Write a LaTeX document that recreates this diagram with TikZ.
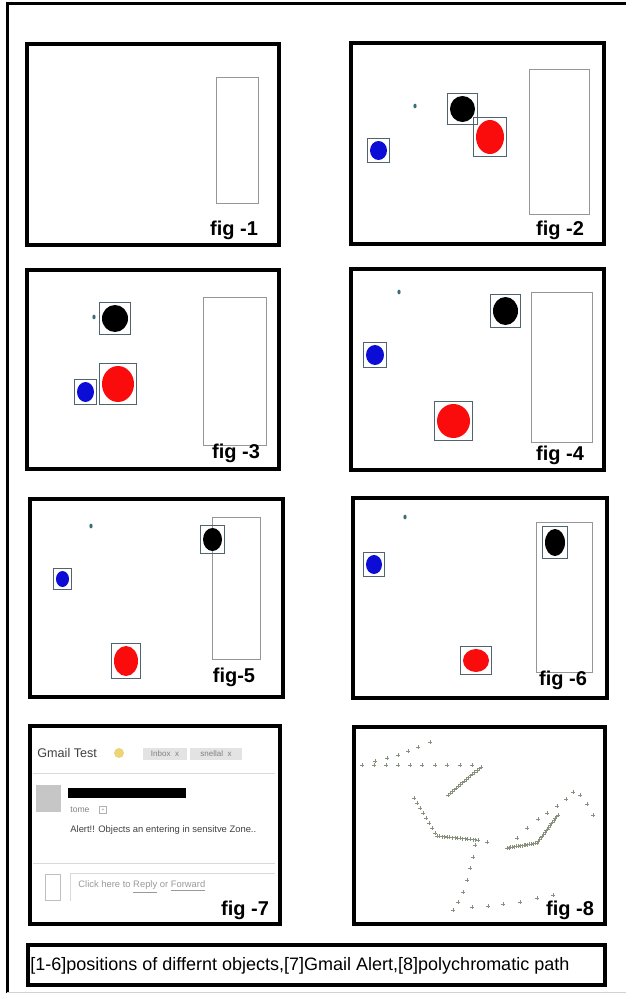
\documentclass[tikz,border=0pt]{standalone}
\usepackage{fontspec}
\setmainfont{Liberation Sans}
\usetikzlibrary{positioning,fit,calc,shapes.geometric}
\definecolor{trackgray}{RGB}{80,100,112}
\definecolor{zonegray}{RGB}{150,150,150}
\definecolor{objred}{RGB}{250,12,12}
\definecolor{objblue}{RGB}{12,12,215}
\definecolor{pathgray}{RGB}{135,145,125}
\definecolor{mailyellow}{RGB}{238,212,120}
\definecolor{seedteal}{RGB}{60,110,120}
\tikzset{
    panel/.style={
        draw,
        line width=2.3pt
    },
    zone/.style={
        draw=zonegray,
        line width=0.5pt
    },
    blob/.style={
        ellipse,
        fill=#1,
        inner sep=0pt
    },
    trackbox/.style={
        rectangle,
        draw=trackgray,
        line width=0.5pt,
        inner sep=1pt
    },
    seed/.style={
        ellipse,
        fill=seedteal,
        inner sep=0pt,
        minimum width=1.6pt,
        minimum height=2.4pt
    },
    figlabel/.style={
        font=\bfseries\fontsize{10}{12}\selectfont
    },
    mailtext/.style={
        anchor=west,
        inner sep=0pt,
        text=black!75
    },
    tagbox/.style={
        rectangle,
        fill=gray!22,
        text=gray,
        inner sep=1.2pt,
        minimum height=6pt,
        font=\fontsize{4}{4.5}\selectfont
    },
    plusmark/.style={
        draw=pathgray,
        line width=0.35pt
    }
}

\begin{document}
\begin{tikzpicture}[x=0.5pt,y=-0.5pt]
    \useasboundingbox (0,0) rectangle (626,995);
    % Outer frame
    \draw[line width=1.5pt] (7,993) -- (7,4) -- (626,4);
    \draw[gray!35, line width=0.4pt] (7,992) -- (626,992);

    % Panels
    \draw[panel] (27,44) rectangle (279,245);
    \draw[panel] (351,43) rectangle (604,244);
    \draw[panel] (27,270) rectangle (279,469);
    \draw[panel] (351,269) rectangle (604,470);
    \draw[panel] (30,499) rectangle (283,697);
    \draw[panel] (353,498) rectangle (607,698);
    \draw[panel] (30,726) rectangle (280,924);
    \draw[panel] (354,727) rectangle (605,924);
    \draw[panel] (28,945) rectangle (605,985);

    % Sensitive zones
    \draw[zone] (216,78) rectangle (258,203);
    \draw[zone] (529,70) rectangle (589,214);
    \draw[zone] (203,297) rectangle (266,445);
    \draw[zone] (531,292) rectangle (592,442);
    \draw[zone] (212,517) rectangle (260,659);
    \draw[zone] (536,522) rectangle (592,672);

    % fig 2
    \node[seed] (d2) at (415,106) {};
    \node[blob=black, minimum width=12.5pt, minimum height=13pt] (k2) at (462.5,109) {};
    \node[blob=objred, minimum width=14pt, minimum height=17pt] (r2) at (490,137) {};
    \node[blob=objblue, minimum width=8.5pt, minimum height=9.5pt] (b2) at (378.5,150.5) {};
    \node[trackbox, fit=(k2)] (k2box) {};
    \node[trackbox, fit=(r2)] (r2box) {};
    \node[trackbox, fit=(b2)] (b2box) {};

    % fig 3
    \node[seed] (d3) at (94,317) {};
    \node[blob=black, minimum width=13pt, minimum height=13.5pt] (k3) at (115,318.5) {};
    \node[blob=objred, minimum width=16pt, minimum height=18pt] (r3) at (118,384) {};
    \node[blob=objblue, minimum width=8.5pt, minimum height=10pt] (b3) at (85.5,392) {};
    \node[trackbox, fit=(k3)] (k3box) {};
    \node[trackbox, fit=(r3)] (r3box) {};
    \node[trackbox, fit=(b3)] (b3box) {};

    % fig 4
    \node[seed] (d4) at (399,292) {};
    \node[blob=black, minimum width=12.5pt, minimum height=14pt] (k4) at (505.5,311) {};
    \node[blob=objred, minimum width=16.5pt, minimum height=17pt] (r4) at (453.5,421) {};
    \node[blob=objblue, minimum width=9pt, minimum height=10pt] (b4) at (375,355) {};
    \node[trackbox, fit=(k4)] (k4box) {};
    \node[trackbox, fit=(r4)] (r4box) {};
    \node[trackbox, fit=(b4)] (b4box) {};

    % fig 5
    \node[seed] (d5) at (91,526) {};
    \node[blob=black, minimum width=9.5pt, minimum height=11.5pt] (k5) at (212.5,539.5) {};
    \node[blob=objred, minimum width=12pt, minimum height=15pt] (r5) at (126,661) {};
    \node[blob=objblue, minimum width=6.5pt, minimum height=8pt] (b5) at (62.5,579) {};
    \node[trackbox, fit=(k5)] (k5box) {};
    \node[trackbox, fit=(r5)] (r5box) {};
    \node[trackbox, fit=(b5)] (b5box) {};

    % fig 6
    \node[seed] (d6) at (405,517) {};
    \node[blob=black, minimum width=10pt, minimum height=13.5pt] (k6) at (555,542.5) {};
    \node[blob=objred, minimum width=13pt, minimum height=11.5pt] (r6) at (476,660.5) {};
    \node[blob=objblue, minimum width=8pt, minimum height=9.5pt] (b6) at (374,564.5) {};
    \node[trackbox, fit=(k6)] (k6box) {};
    \node[trackbox, fit=(r6)] (r6box) {};
    \node[trackbox, fit=(b6)] (b6box) {};

    % fig 7 : mail alert
    \node[mailtext, font=\fontsize{6.3}{7}\selectfont] (subject) at (37,753) {Gmail Test};
    \node[circle, fill=mailyellow, minimum size=5pt, inner sep=0pt] (star) at (119,753) {};
    \node[tagbox, minimum width=22pt] (inbox) at (165,754) {Inbox \ x};
    \node[tagbox, minimum width=26pt] (snellal) at (216,754) {snellal \ x};
    \draw[gray!30] (33,773) -- (275,773);
    \node[rectangle, fill=gray!45, minimum width=12.5pt, minimum height=13.5pt, inner sep=0pt] (avatar) at (48.5,798.5) {};
    \node[rectangle, fill=black, minimum width=59pt, minimum height=5pt, inner sep=0pt] (sender) at (127,793) {};
    \node[mailtext, text=gray, font=\fontsize{4.3}{5}\selectfont] (tome) at (70,810) {tome};
    \node[rectangle, draw=gray!60, minimum size=3.5pt, inner sep=0pt, font=\fontsize{2.5}{3}\selectfont, text=gray] (menu) at (103,810) {+};
    \node[mailtext, font=\fontsize{4.7}{5.5}\selectfont] (alert) at (70,830) {Alert!! Objects an entering in sensitve Zone..};
    \draw[gray!30] (33,863) -- (275,863);
    \node[rectangle, draw=gray!50, minimum width=7.5pt, minimum height=13pt, inner sep=0pt] (avatar2) at (52.5,887) {};
    \draw[gray!30] (70,901) -- (70,873) -- (275,873);
    \node[mailtext, text=gray!80, font=\fontsize{4.7}{5.5}\selectfont] (reply) at (78,887) {Click here to \underline{Reply} or \underline{Forward}};

    % fig 8 : polychromatic path
    \foreach \p in {(362,765),(374,765),(386,765),(398,765),(410,765),(422,765),(435,765),(447,765),(460,765),(472,765),
                    (375,761),(387,758),(398,755),(408,751),(418,747),(430,742),
                    (414,798),(417,803),(420,808),(423,813),(426,818),(429,823),(432,828),(435,833),(487,842),
                    (475,845),(473,857),(470,868),(467,880),(463,892),(458,902),(453,910),
                    (472,907),(488,906),(503,904),(520,902),(537,898),(553,895),
                    (517,838),(527,828),(538,819),(547,813),(557,806),(566,799),(573,792),(580,795),(587,804),(593,815)}
        \draw[plusmark] \p +(-2,0) -- +(2,0) \p +(0,-2) -- +(0,2);
    \foreach \t in {0,0.0625,...,1.01} {
        \draw[plusmark] ($(448,795)!\t!(481,767)$) +(-2,0) -- +(2,0) +(0,-2) -- +(0,2);
        \draw[plusmark] ($(437,836)!\t!(478,840)$) +(-2,0) -- +(2,0) +(0,-2) -- +(0,2);
        \draw[plusmark] ($(507,848)!\t!(537,843)$) +(-2,0) -- +(2,0) +(0,-2) -- +(0,2);
        \draw[plusmark] ($(537,843)!\t!(558,815)$) +(-2,0) -- +(2,0) +(0,-2) -- +(0,2);
    }

    % Figure labels
    \node[figlabel] (l1) at (234,230) {fig -1};
    \node[figlabel] (l2) at (560,230) {fig -2};
    \node[figlabel] (l3) at (236,453) {fig -3};
    \node[figlabel] (l4) at (560,455) {fig -4};
    \node[figlabel] (l5) at (234,677) {fig-5};
    \node[figlabel] (l6) at (563,680) {fig -6};
    \node[figlabel] (l7) at (245,910) {fig -7};
    \node[figlabel] (l8) at (570,910) {fig -8};

    % Caption
    \node[anchor=west, inner sep=0pt, font=\fontsize{9}{11}\selectfont] (caption) at (30,966) {[1-6]positions of differnt objects,[7]Gmail Alert,[8]polychromatic path};
\end{tikzpicture}
\end{document}
